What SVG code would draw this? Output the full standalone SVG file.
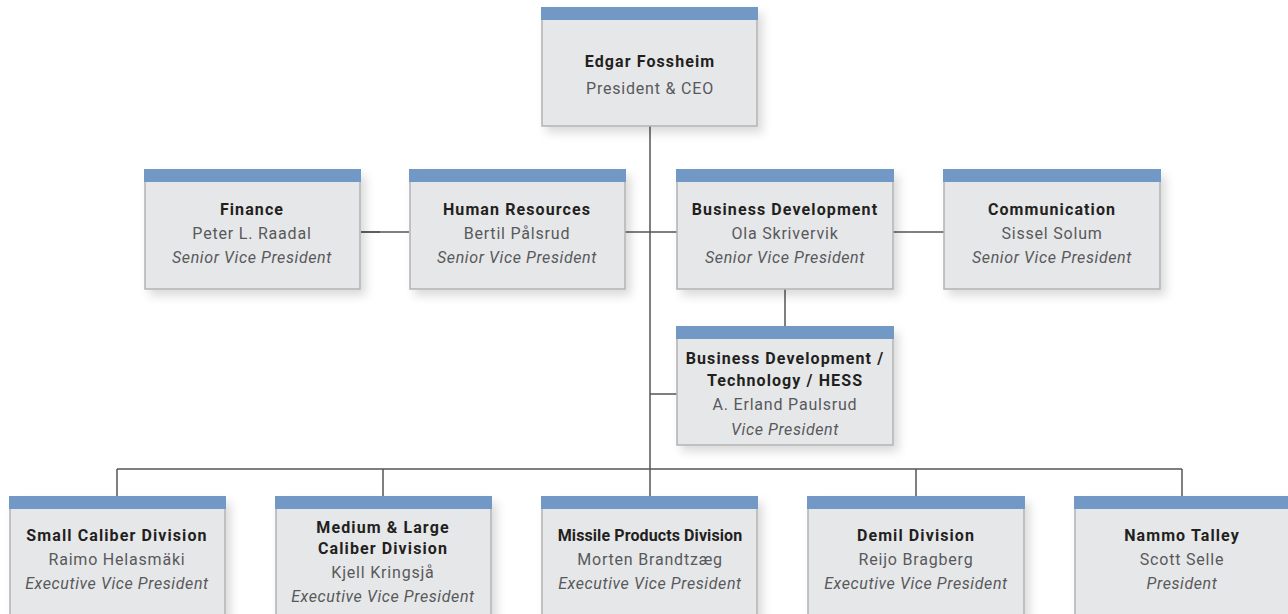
<svg xmlns="http://www.w3.org/2000/svg" width="1288" height="614" viewBox="0 0 1288 614">
<style>
.box{fill:#e6e7e9;stroke:#b3b3b3;stroke-width:1.5}
.bar{fill:#7298c5}
.t{font-family:Roboto,"Liberation Sans",sans-serif;font-size:16px;letter-spacing:0.8px;text-anchor:middle;fill:#58595b}
.b{font-weight:bold;fill:#231f20;letter-spacing:1.1px}
.i{font-style:italic;letter-spacing:0.6px}
.ln{stroke:#555;stroke-width:1.5;fill:none}
</style>
<defs>
<filter id="sh" x="-10%" y="-10%" width="130%" height="140%">
<feDropShadow dx="5" dy="6" stdDeviation="5" flood-color="#000" flood-opacity="0.14"/>
</filter>
</defs>
<g id="connectors">
<path class="ln" d="M650 126V469"/>
<path class="ln" d="M361 232H409"/>
<path class="ln" d="M361 232H380" stroke-width="2.5"/>
<path class="ln" d="M625 232H677"/>
<path class="ln" d="M893 232H944"/>
<path class="ln" d="M785 289V326"/>
<path class="ln" d="M650 394H677"/>
<path class="ln" d="M117 469H1182"/>
<path class="ln" d="M117 469V496M383 469V496M650 469V496M916 469V496M1182 469V496"/>
</g>
<g id="ceo"><rect class="box" x="542" y="8" width="215" height="118" filter="url(#sh)"/><rect class="bar" x="541" y="7" width="217" height="13"/>
<text class="t b" x="650" y="67">Edgar Fossheim</text><text class="t" x="650" y="94">President &amp; CEO</text></g>
<g id="finance"><rect class="box" x="145" y="170" width="215" height="119" filter="url(#sh)"/><rect class="bar" x="144" y="169" width="217" height="13"/>
<text class="t b" x="252" y="215">Finance</text><text class="t" x="252" y="239">Peter L. Raadal</text><text class="t i" x="252" y="263">Senior Vice President</text></g>
<g id="hr"><rect class="box" x="410" y="170" width="215" height="119" filter="url(#sh)"/><rect class="bar" x="409" y="169" width="217" height="13"/>
<text class="t b" x="517" y="215">Human Resources</text><text class="t" x="517" y="239">Bertil Pålsrud</text><text class="t i" x="517" y="263">Senior Vice President</text></g>
<g id="bizdev"><rect class="box" x="677" y="170" width="216" height="119" filter="url(#sh)"/><rect class="bar" x="676" y="169" width="218" height="13"/>
<text class="t b" x="785" y="215">Business Development</text><text class="t" x="785" y="239">Ola Skrivervik</text><text class="t i" x="785" y="263">Senior Vice President</text></g>
<g id="comm"><rect class="box" x="944" y="170" width="216" height="119" filter="url(#sh)"/><rect class="bar" x="943" y="169" width="218" height="13"/>
<text class="t b" x="1052" y="215">Communication</text><text class="t" x="1052" y="239">Sissel Solum</text><text class="t i" x="1052" y="263">Senior Vice President</text></g>
<g id="bdtech"><rect class="box" x="677" y="327" width="216" height="118" filter="url(#sh)"/><rect class="bar" x="676" y="326" width="218" height="13"/>
<text class="t b" x="785" y="364">Business Development /</text><text class="t b" x="785" y="386">Technology / HESS</text><text class="t" x="785" y="410">A. Erland Paulsrud</text><text class="t i" x="785" y="435">Vice President</text></g>
<g id="small"><rect class="box" x="10" y="497" width="215" height="130" filter="url(#sh)"/><rect class="bar" x="9" y="496" width="217" height="13"/>
<text class="t b" x="117" y="541">Small Caliber Division</text><text class="t" x="117" y="565">Raimo Helasmäki</text><text class="t i" x="117" y="589">Executive Vice President</text></g>
<g id="medium"><rect class="box" x="276" y="497" width="215" height="130" filter="url(#sh)"/><rect class="bar" x="275" y="496" width="217" height="13"/>
<text class="t b" x="383" y="533">Medium  &amp; Large</text><text class="t b" x="383" y="554">Caliber Division</text><text class="t" x="383" y="578">Kjell Kringsjå</text><text class="t i" x="383" y="602">Executive Vice President</text></g>
<g id="missile"><rect class="box" x="542" y="497" width="215" height="130" filter="url(#sh)"/><rect class="bar" x="541" y="496" width="217" height="13"/>
<text class="t b" x="650" y="541" style="letter-spacing:0.1px">Missile Products Division</text><text class="t" x="650" y="565">Morten Brandtzæg</text><text class="t i" x="650" y="589">Executive Vice President</text></g>
<g id="demil"><rect class="box" x="808" y="497" width="216" height="130" filter="url(#sh)"/><rect class="bar" x="807" y="496" width="218" height="13"/>
<text class="t b" x="916" y="541">Demil Division</text><text class="t" x="916" y="565">Reijo Bragberg</text><text class="t i" x="916" y="589">Executive Vice President</text></g>
<g id="talley"><rect class="box" x="1075" y="497" width="216" height="130" filter="url(#sh)"/><rect class="bar" x="1074" y="496" width="218" height="13"/>
<text class="t b" x="1182" y="541">Nammo Talley</text><text class="t" x="1182" y="565">Scott Selle</text><text class="t i" x="1182" y="589">President</text></g>
</svg>
